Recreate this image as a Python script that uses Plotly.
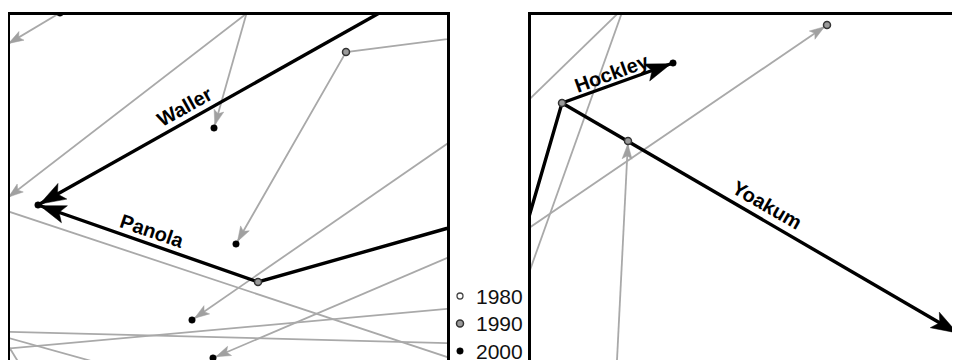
import numpy as np
import plotly.graph_objects as go

# ---------------- data (chart units) ----------------
# Left panel – background (gray) trajectories, each a polyline; arrow at last point
left_gray_x = [[110, 60, 6], [290, 6], [256, 214], [480, 346, 236], [480, 192],
               [-20, 480], [480, 213], [-20, 480], [-20, 480], [-20, 120], [-5, 25]]
left_gray_y = [[377, 347, 315], [380, 161], [380, 232], [325, 308, 116], [239, 40],
               [158, -8], [116, 2], [29, 16], [9, 54], [30, -9], [36, -13]]
left_gray_arrow = [True, True, True, True, True, False, True, False, False, False, False]

# Left panel – highlighted counties
left_names = ["Waller", "Panola"]
left_black_x = [[438, 38], [480, 258, 38]]
left_black_y = [[380, 155], [141, 78, 155]]
left_label_x = [184, 152]
left_label_y = [253, 129]
left_label_angle = [-29, 19]

# Left panel – year points
left_1990_x = [346, 258]
left_1990_y = [308, 78]
left_2000_x = [60, 214, 236, 192, 213, 38]
left_2000_y = [347, 232, 116, 40, 2, 155]

# Right panel – background trajectories
right_gray_x = [[510, 642], [515, 630], [510, 827], [616, 628]]
right_gray_y = [[242, 370], [48, 370], [119, 335], [-20, 219]]
right_gray_arrow = [False, False, True, True]

# Right panel – highlighted counties
right_names = ["Hockley", "Yoakum"]
right_black_x = [[515, 562, 673], [562, 959]]
right_black_y = [[95, 257, 297], [257, 26]]
right_label_x = [612, 767]
right_label_y = [287, 155]
right_label_angle = [-20, 30]

right_1990_x = [827, 628, 562]
right_1990_y = [335, 219, 257]
right_2000_x = [673, 959]
right_2000_y = [297, 26]

# Legend
legend_years = ["1980", "1990", "2000"]

# ---------------- styles ----------------
GRAY = "#a9a9a9"
GRAY_HEAD = "#a0a0a0"
FONT = "Liberation Sans, Arial, sans-serif"
marker_styles = {
    "1980": dict(color="white", size=6, line=dict(color="#444444", width=1.3)),
    "1990": dict(color="#9a9a9a", size=7, line=dict(color="#333333", width=1.5)),
    "2000": dict(color="black", size=6.5, line=dict(color="black", width=0.5)),
}

fig = go.Figure()


def head_polygon(xs, ys, L, W, gap):
    p0 = np.array([xs[-2], ys[-2]], float)
    p1 = np.array([xs[-1], ys[-1]], float)
    d = p1 - p0
    u = d / np.hypot(*d)
    n = np.array([-u[1], u[0]])
    tip = p1 - gap * u
    back = tip - L * u
    pts = [tip, back + W / 2 * n, tip - 0.78 * L * u, back - W / 2 * n, tip]
    return [p[0] for p in pts], [p[1] for p in pts]


def add_panel(gx, gy, garrow, bx, by, xa, ya):
    for xs, ys, arr in zip(gx, gy, garrow):
        fig.add_trace(go.Scatter(x=xs, y=ys, mode="lines", xaxis=xa, yaxis=ya,
                                 line=dict(color=GRAY, width=1.8), hoverinfo="skip"))
        if arr:
            hx, hy = head_polygon(xs, ys, 15, 10, 3)
            fig.add_trace(go.Scatter(x=hx, y=hy, mode="lines", fill="toself",
                                     fillcolor=GRAY_HEAD, line=dict(color=GRAY_HEAD, width=0.5),
                                     xaxis=xa, yaxis=ya, hoverinfo="skip"))
    for xs, ys in zip(bx, by):
        fig.add_trace(go.Scatter(x=xs, y=ys, mode="lines", xaxis=xa, yaxis=ya,
                                 line=dict(color="black", width=3.4), hoverinfo="skip"))
        hx, hy = head_polygon(xs, ys, 26, 18, 2)
        fig.add_trace(go.Scatter(x=hx, y=hy, mode="lines", fill="toself",
                                 fillcolor="black", line=dict(color="black", width=0.5),
                                 xaxis=xa, yaxis=ya, hoverinfo="skip"))


add_panel(left_gray_x, left_gray_y, left_gray_arrow, left_black_x, left_black_y, "x", "y")
add_panel(right_gray_x, right_gray_y, right_gray_arrow, right_black_x, right_black_y, "x2", "y2")

for xs, ys, yr, xa, ya in [(left_1990_x, left_1990_y, "1990", "x", "y"),
                           (left_2000_x, left_2000_y, "2000", "x", "y"),
                           (right_1990_x, right_1990_y, "1990", "x2", "y2"),
                           (right_2000_x, right_2000_y, "2000", "x2", "y2")]:
    fig.add_trace(go.Scatter(x=xs, y=ys, mode="markers", marker=marker_styles[yr],
                             xaxis=xa, yaxis=ya, hoverinfo="skip"))

# county labels
for names, lx, ly, ang, xa, ya in [(left_names, left_label_x, left_label_y, left_label_angle, "x", "y"),
                                   (right_names, right_label_x, right_label_y, right_label_angle, "x2", "y2")]:
    for nm, x, y, a in zip(names, lx, ly, ang):
        fig.add_annotation(x=x, y=y, xref=xa, yref=ya, text="<b>%s</b>" % nm,
                           textangle=a, showarrow=False,
                           font=dict(family=FONT, size=20, color="black"))

# legend (manual, own small axis)
leg_idx = [2, 1, 0]
for yr, i in zip(legend_years, leg_idx):
    fig.add_trace(go.Scatter(x=[10], y=[i], mode="markers", marker=marker_styles[yr],
                             xaxis="x3", yaxis="y3", hoverinfo="skip", cliponaxis=False))
    fig.add_annotation(x=24, y=i, xref="x3", yref="y3", text=yr, showarrow=False,
                       xanchor="left", yanchor="middle",
                       font=dict(family=FONT, size=21, color="#111111"))

# The page body has an 8px margin, so figure pixel = window pixel - 8.
OFF = 8
W, H = 960, 360


def xdom(a, b):
    return [max(0, (a - OFF) / W), min(1, (b - OFF) / W)]


def ydom(top, bottom):
    return [max(0, (H - (bottom - OFF)) / H), min(1, (H - (top - OFF)) / H)]


TOP = 14.5
noax = dict(showticklabels=False, ticks="", showgrid=False, zeroline=False)
fig.update_layout(
    width=W, height=H, margin=dict(l=0, r=0, t=0, b=0),
    paper_bgcolor="white", plot_bgcolor="rgba(0,0,0,0)", showlegend=False,
    xaxis=dict(domain=xdom(10, 447), range=[10, 447], side="top",
               showline=True, linecolor="black", linewidth=2.5, anchor="y", **noax),
    yaxis=dict(domain=ydom(TOP, 368), range=[-8, 360 - TOP], showline=True, mirror=True,
               linecolor="black", linewidth=2.5, anchor="x", **noax),
    xaxis2=dict(domain=xdom(531, 968), range=[531, 968], side="top",
                showline=True, linecolor="black", linewidth=2.5, anchor="y2", **noax),
    yaxis2=dict(domain=ydom(TOP, 368), range=[-8, 360 - TOP], showline=True,
                linecolor="black", linewidth=2.5, anchor="x2", **noax),
    xaxis3=dict(domain=xdom(450, 530), range=[0, 80], visible=False, anchor="y3"),
    yaxis3=dict(domain=ydom(280, 360), range=[-0.327, 2.582], visible=False, anchor="x3"),
)

fig.write_html("out.html")
